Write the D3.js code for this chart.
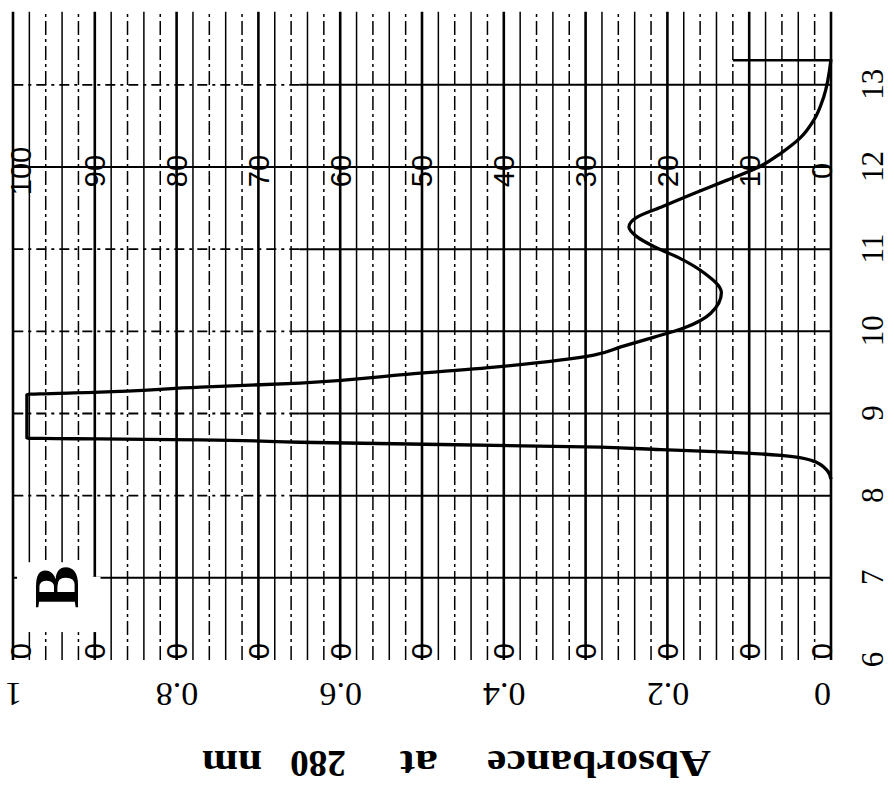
<!DOCTYPE html>
<html lang="en">
<head>
<meta charset="utf-8">
<title>Absorbance at 280 nm</title>
<script src="https://d3js.org/d3.v7.min.js"></script>
<style>
  body { margin: 0; background: white; }
</style>
</head>
<body>
<div id="my_dataviz"></div>
<script>

// the chart is drawn upright (786 wide, 894 tall) and then turned a quarter turn to the left
var width = 894
    height = 786

// fraction number axis
var fractionTicks = [6, 7, 8, 9, 10, 11, 12, 13]
var fractionLines = [7, 8, 9, 10, 11, 12, 13]

// absorbance axis
var absorbanceTicks = [0, 0.2, 0.4, 0.6, 0.8, 1]
var absorbanceLabels = ["0", "0.2", "0.4", "0.6", "0.8", "1"]
var titleWords = ["Absorbance", "at", "280", "nm"]

// recorder paper percent scale
var percentTicks = [100, 90, 80, 70, 60, 50, 40, 30, 20, 10, 0]

// the trace
var traceFraction = [8.20, 8.31, 8.43, 8.49, 8.53, 8.56, 8.59, 8.65, 8.68, 8.69, 8.70, 9.23, 9.26, 9.32, 9.37, 9.47, 9.57, 9.71, 9.81, 9.93, 10.04, 10.22, 10.47, 10.71, 10.90, 11.03, 11.15, 11.27, 11.39, 11.51, 11.68, 11.84, 11.99, 12.17, 12.36, 12.57, 12.85, 13.31]
var traceAbsorbance = [0.000, 0.005, 0.024, 0.061, 0.127, 0.208, 0.282, 0.649, 0.771, 0.894, 0.983, 0.983, 0.894, 0.771, 0.649, 0.527, 0.405, 0.290, 0.257, 0.216, 0.180, 0.147, 0.134, 0.155, 0.187, 0.216, 0.237, 0.247, 0.237, 0.208, 0.167, 0.127, 0.090, 0.061, 0.037, 0.021, 0.009, 0.000]

// end mark at the last fraction
var markFraction = 13.3
var markAbsorbance = [0, 0.12]

var svg = d3.select("#my_dataviz")
  .append("svg")
    .attr("width", width)
    .attr("height", height)
    .style("background", "white")

var g = svg.append("g")
    .attr("transform", "translate(0," + height + ") rotate(-90)")

var x = d3.scaleLinear().domain([6, 12]).range([126, 619])
var y = d3.scaleLinear().domain([0, 1]).range([831, 13])
var fracEnd = 13.89

var serif = "'Liberation Serif', 'DejaVu Serif', serif"

// clip for the cut off labels at the lower paper edge
g.append("clipPath").attr("id", "paper")
  .append("rect")
    .attr("x", x(6) + 2).attr("y", 0)
    .attr("width", x(fracEnd) - x(6)).attr("height", 894)

// paper grid: a line every 2 %, heavier every 10 %
var grid = y.ticks(50)
g.selectAll(".pgrid")
  .data(grid)
  .enter()
  .append("line")
    .attr("x1", x(6))
    .attr("x2", x(fracEnd))
    .attr("y1", function(d) { return y(d) })
    .attr("y2", function(d) { return y(d) })
    .attr("stroke", "black")
    .attr("stroke-width", function(d) { return Math.round(d * 100) % 10 == 0 ? 2.6 : 1.5 })
    .attr("stroke-dasharray", function(d) {
      var s = Math.round(d * 100) % 10
      return (s == 6 || s == 2) ? "14,4,3,4" : null
    })

// fraction lines, dash-dot on the high absorbance side
g.selectAll(".fsolid")
  .data(fractionLines)
  .enter()
  .append("line")
    .attr("x1", function(d) { return x(d) })
    .attr("x2", function(d) { return x(d) })
    .attr("y1", y(0))
    .attr("y2", function(d) { return (d == 7 || d == 12) ? y(1) : y(0.65) })
    .attr("stroke", "black")
    .attr("stroke-width", 2)

g.selectAll(".fdash")
  .data(fractionLines.filter(function(d) { return d != 7 && d != 12 }))
  .enter()
  .append("line")
    .attr("x1", function(d) { return x(d) })
    .attr("x2", function(d) { return x(d) })
    .attr("y1", y(0.65))
    .attr("y2", y(1))
    .attr("stroke", "black")
    .attr("stroke-width", 1.8)
    .attr("stroke-dasharray", "10,5,3,5")

// white box under the panel letter
g.append("rect")
    .attr("x", x(7)).attr("y", y(0.995))
    .attr("width", x(7.19) - x(7)).attr("height", y(0.903) - y(0.995))
    .attr("fill", "white")
g.append("rect")
    .attr("x", x(6.34)).attr("y", y(0.995))
    .attr("width", x(7) - x(6.34) + 1).attr("height", y(0.893) - y(0.995))
    .attr("fill", "white")

g.append("text")
    .attr("x", x(6.89))
    .attr("y", y(0.946))
    .attr("dy", "0.33em")
    .attr("text-anchor", "middle")
    .style("font-family", serif)
    .style("font-weight", "bold")
    .style("font-size", "64px")
    .text("B")

// paper percent labels
function clampP(v) { return Math.max(21, Math.min(822, v)) }

g.selectAll(".plabel")
  .data(percentTicks)
  .enter()
  .append("text")
    .attr("x", x(12) - 4)
    .attr("y", function(d) { return clampP(y(d / 100)) })
    .attr("dy", "0.36em")
    .attr("text-anchor", "middle")
    .style("font-family", "'Liberation Sans', Arial, sans-serif")
    .style("font-size", "29px")
    .text(function(d) { return d })

g.append("g")
    .attr("clip-path", "url(#paper)")
  .selectAll("text")
  .data(percentTicks)
  .enter()
  .append("text")
    .attr("x", x(6) + 17)
    .attr("y", function(d) { return clampP(y(d / 100)) })
    .attr("dy", "0.36em")
    .attr("text-anchor", "end")
    .style("font-family", "'Liberation Sans', Arial, sans-serif")
    .style("font-size", "29px")
    .text(function(d) { return d })

// fraction axis
var xAxis = g.append("g")
    .attr("transform", "translate(0,861)")
    .call(d3.axisBottom(x).tickValues(fractionTicks).tickSize(0).tickPadding(0)
      .tickFormat(d3.format("d")))
xAxis.select(".domain").remove()
xAxis.selectAll("text")
    .style("font-family", serif)
    .style("font-size", "31px")
    .attr("fill", "black")

// absorbance axis, labels turned like the title
function clampA(v) { return Math.max(13, Math.min(822, v)) }

var yAxis = g.append("g")
    .attr("transform", "translate(91,0)")
    .call(d3.axisLeft(y).tickValues(absorbanceTicks).tickSize(0)
      .tickFormat(function(d, i) { return absorbanceLabels[i] }))
yAxis.select(".domain").remove()
yAxis.selectAll("text")
    .attr("transform", "rotate(-90)")
    .attr("x", function(d) { return y(d) - clampA(y(d)) })
    .attr("y", 0)
    .attr("dy", "0.35em")
    .attr("text-anchor", "middle")
    .style("font-family", serif)
    .style("font-size", "34px")
    .attr("fill", "black")

// axis title, word by word (the digits are set narrow in the original)
var wordCenter = [599, 419, 318, 232]
var wordWidth = [224, 38, 56, 60]
g.selectAll(".title")
  .data(titleWords)
  .enter()
  .append("text")
    .attr("transform", function(d, i) { return "translate(35," + wordCenter[i] + ") rotate(-90)" })
    .attr("text-anchor", "middle")
    .attr("textLength", function(d, i) { return wordWidth[i] })
    .attr("lengthAdjust", "spacingAndGlyphs")
    .style("font-family", serif)
    .style("font-weight", "bold")
    .style("font-size", "38px")
    .text(function(d) { return d })

// the trace
var data_ready = d3.zip(traceFraction, traceAbsorbance)
g.append("path")
    .datum(data_ready)
    .attr("fill", "none")
    .attr("stroke", "black")
    .attr("stroke-width", 3.3)
    .attr("stroke-linejoin", "round")
    .attr("d", d3.line()
      .x(function(d) { return x(d[0]) })
      .y(function(d) { return y(d[1]) })
      .curve(d3.curveMonotoneX))

g.append("line")
    .attr("x1", x(markFraction)).attr("x2", x(markFraction))
    .attr("y1", y(markAbsorbance[0])).attr("y2", y(markAbsorbance[1]))
    .attr("stroke", "black")
    .attr("stroke-width", 2.6)

</script>
</body>
</html>
